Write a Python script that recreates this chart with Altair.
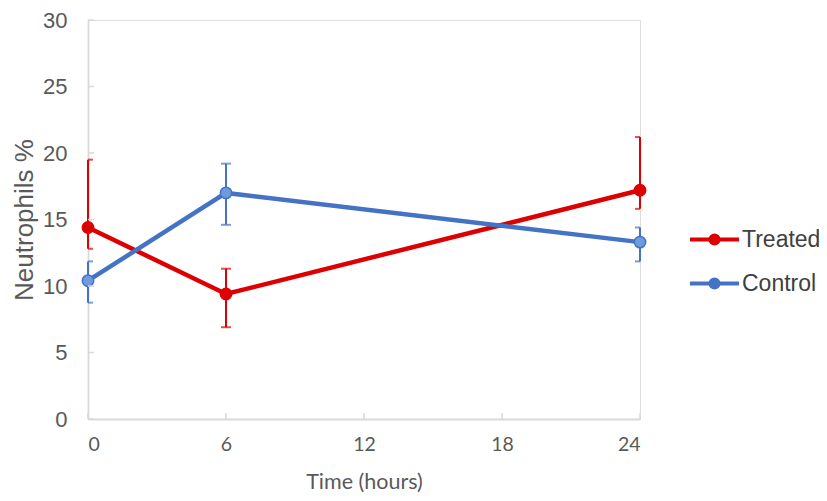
import altair as alt
import pandas as pd

time = [0, 6, 24]
series_names = ["Treated", "Control"]
treated_mean = [14.4, 9.4, 17.2]
treated_low = [12.8, 6.9, 15.8]
treated_high = [19.5, 11.3, 21.2]
control_mean = [10.4, 17.0, 13.3]
control_low = [8.75, 14.6, 11.85]
control_high = [11.85, 19.2, 14.4]
x_ticks = [0, 6, 12, 18, 24]
y_ticks = [0, 5, 10, 15, 20, 25, 30]

rows = []
for s, m, lo, hi in [("Treated", treated_mean, treated_low, treated_high),
                     ("Control", control_mean, control_low, control_high)]:
    for t, mv, l, h in zip(time, m, lo, hi):
        rows.append({"time": t, "series": s, "mean": mv, "low": l, "high": h})
df = pd.DataFrame(rows)

RED = "#DD0000"
BLUE = "#4472C4"
LIGHTBLUE = "#6E9BDB"
AXIS = "#D9D9D9"

xscale = alt.Scale(domain=[0, 24], nice=False)
yscale = alt.Scale(domain=[0, 30], nice=False)

x = alt.X("time:Q", scale=xscale,
          axis=alt.Axis(values=x_ticks, title="Time (hours)",
                        labelFont="Lato", labelFontSize=19.5, labelColor="#595959",
                        titleFont="Lato", titleFontSize=21.5, titleColor="#595959",
                        titleFontWeight="normal", labelPadding=16, titlePadding=18,
                        ticks=False, tickSize=0, domainColor=AXIS,
                        domainWidth=1.8, grid=False))
y_axis = alt.Axis(values=y_ticks, title="Neutrophils %",
                  labelFont="Liberation Sans", labelFontSize=22, labelColor="#595959",
                  titleFont="Liberation Sans", titleFontSize=26, titleColor="#595959",
                  titleFontWeight="normal", labelPadding=21, titlePadding=5,
                  ticks=False, tickSize=0, domainColor=AXIS,
                  domainWidth=1.8, grid=False)

stroke_scale = alt.Scale(domain=series_names, range=[RED, BLUE])
fill_scale = alt.Scale(domain=series_names, range=[RED, LIGHTBLUE])

legend_path = "M-2,0L2,0M0.34,0A0.34,0.34,0,1,1,-0.34,0A0.34,0.34,0,1,1,0.34,0Z"
leg = alt.Legend(title=None, orient="none", legendX=612, legendY=205,
                 symbolType=legend_path, symbolSize=600, symbolStrokeWidth=3.8,
                 labelFont="Liberation Sans", labelFontSize=23, labelColor="#404040",
                 labelOffset=13, rowPadding=17)

stroke_enc = alt.Stroke("series:N", scale=stroke_scale, legend=leg)
fill_enc = alt.Fill("series:N", scale=fill_scale, legend=leg)

base = alt.Chart(df)

# inward axis ticks, placed through the scales from the tick lists
xtick_layer = alt.Chart(pd.DataFrame({"t": x_ticks})).mark_rule(
    color=AXIS, strokeWidth=1.5).encode(
    x=alt.X("t:Q", scale=xscale), y=alt.value(399), y2=alt.value(393))
ytick_layer = alt.Chart(pd.DataFrame({"v": y_ticks})).mark_rule(
    color=AXIS, strokeWidth=1.5).encode(
    y=alt.Y("v:Q", scale=yscale), x=alt.value(0), x2=alt.value(6))

err = base.mark_rule(strokeWidth=2).encode(
    x=x, y=alt.Y("low:Q", scale=yscale, axis=y_axis), y2="high:Q",
    stroke=stroke_enc)
cap_lo = base.mark_tick(orient="horizontal", size=10, thickness=2, clip=True).encode(
    x="time:Q", y=alt.Y("low:Q", scale=yscale),
    color=alt.Color("series:N", scale=stroke_scale, legend=None))
cap_hi = base.mark_tick(orient="horizontal", size=10, thickness=2, clip=True).encode(
    x="time:Q", y=alt.Y("high:Q", scale=yscale),
    color=alt.Color("series:N", scale=stroke_scale, legend=None))

line = base.mark_line(strokeWidth=4.5).encode(
    x="time:Q", y=alt.Y("mean:Q", scale=yscale),
    stroke=stroke_enc, order="time:Q", detail="series:N")

points = base.mark_circle(size=130, opacity=1, strokeWidth=1.5).encode(
    x="time:Q", y=alt.Y("mean:Q", scale=yscale),
    stroke=stroke_enc, fill=fill_enc)

layers = []
for s in series_names:
    f = alt.datum.series == s
    layers += [err.transform_filter(f), cap_lo.transform_filter(f),
               cap_hi.transform_filter(f), line.transform_filter(f),
               points.transform_filter(f)]

chart = alt.layer(*layers, xtick_layer, ytick_layer).properties(
    width=552, height=399,
    autosize=alt.AutoSizeParams(type="none"),
    padding={"left": 80, "top": 12, "right": 179, "bottom": 74},
).configure_view(stroke=None).configure(background="white")

chart.save("out.html", embed_options={"renderer": "svg", "actions": False})
